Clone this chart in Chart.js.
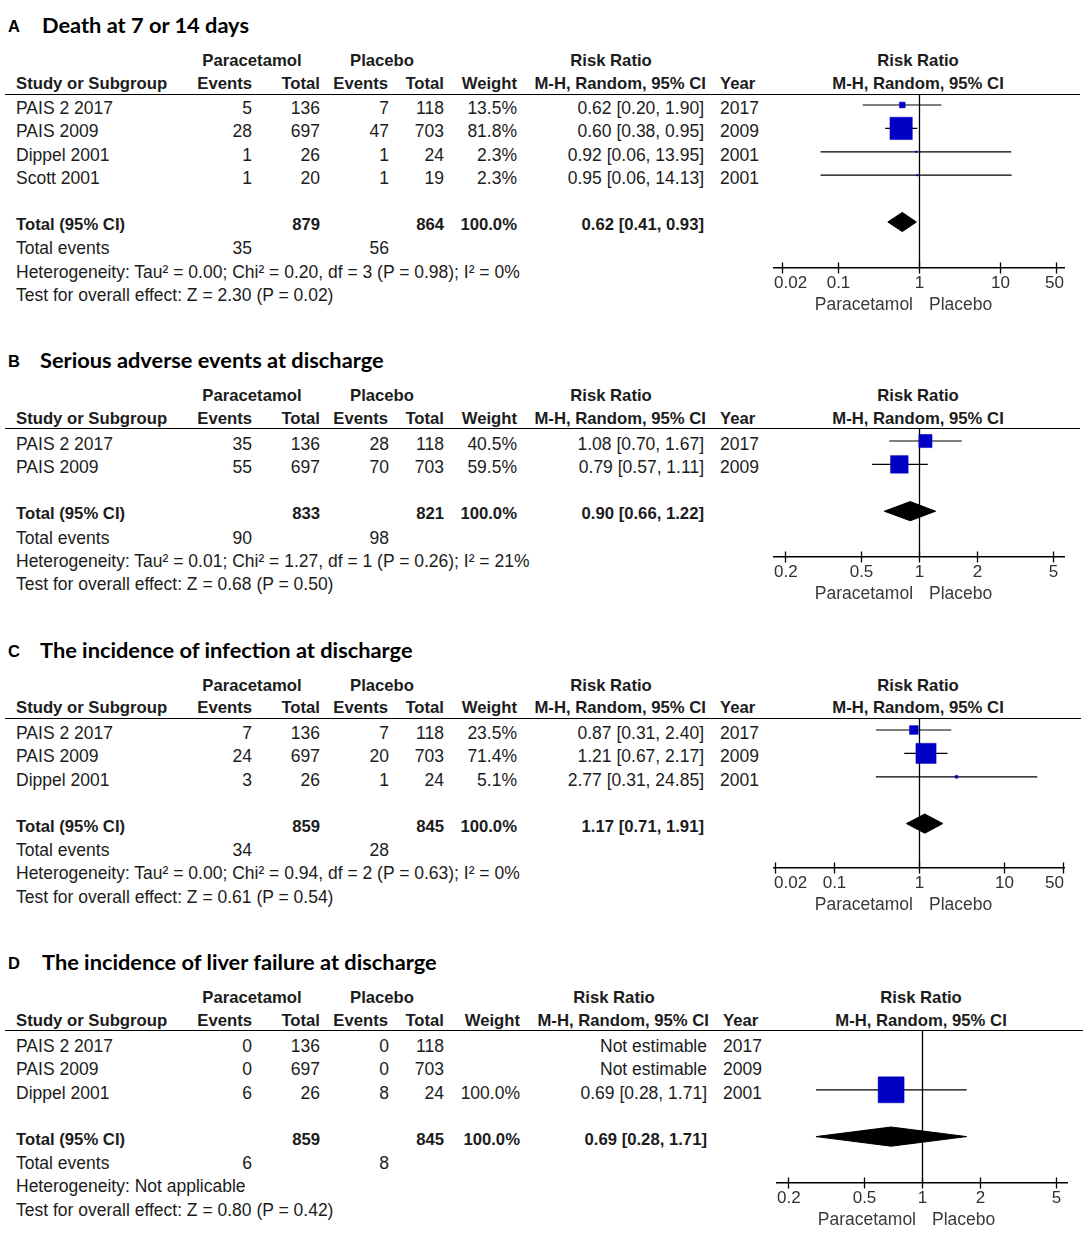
<!DOCTYPE html>
<html><head><meta charset="utf-8">
<script src="https://cdn.jsdelivr.net/npm/chart.js@4.4.1/dist/chart.umd.min.js"></script>
<style>
body{margin:0;background:#fff;width:1084px;height:1240px;position:relative;overflow:hidden;font-family:"Liberation Sans",Arial,sans-serif;color:#1c1c1c}
.t{position:absolute;white-space:nowrap;font-size:17.5px;height:24px;line-height:24px}
.b{font-weight:bold;font-size:16.7px}
.ttl{position:absolute;white-space:nowrap;font-family:Lato,"Open Sans",sans-serif;font-weight:700;font-size:21.8px;height:30px;line-height:30px;color:#000}
.lt{position:absolute;font-weight:bold;font-size:16.5px;height:20px;line-height:20px;color:#000}
.hl{position:absolute;height:0;border-top:1.7px solid #000}
.cw{position:absolute}
</style></head><body>
<script>
// ---------------- DATA ----------------
// Panel A: Death at 7 or 14 days
const studiesA = ['PAIS 2 2017','PAIS 2009','Dippel 2001','Scott 2001'];
const paraEventsA = [5, 28, 1, 1];
const paraTotalA = [136, 697, 26, 20];
const placEventsA = [7, 47, 1, 1];
const placTotalA = [118, 703, 24, 19];
const weightA = [13.5, 81.8, 2.3, 2.3];
const rrA = [0.62, 0.60, 0.92, 0.95];
const lowA = [0.20, 0.38, 0.06, 0.06];
const highA = [1.90, 0.95, 13.95, 14.13];
const yearA = [2017, 2009, 2001, 2001];
const totalsA = [879, 864];
const totalEventsA = [35, 56];
const pooledA = [0.62, 0.41, 0.93];
const hetA = 'Heterogeneity: Tau\u00b2 = 0.00; Chi\u00b2 = 0.20, df = 3 (P = 0.98); I\u00b2 = 0%';
const testA = 'Test for overall effect: Z = 2.30 (P = 0.02)';
const ticksA = [0.02, 0.1, 1, 10, 50];

// Panel B: Serious adverse events at discharge
const studiesB = ['PAIS 2 2017','PAIS 2009'];
const paraEventsB = [35, 55];
const paraTotalB = [136, 697];
const placEventsB = [28, 70];
const placTotalB = [118, 703];
const weightB = [40.5, 59.5];
const rrB = [1.08, 0.79];
const lowB = [0.70, 0.57];
const highB = [1.67, 1.11];
const yearB = [2017, 2009];
const totalsB = [833, 821];
const totalEventsB = [90, 98];
const pooledB = [0.90, 0.66, 1.22];
const hetB = 'Heterogeneity: Tau\u00b2 = 0.01; Chi\u00b2 = 1.27, df = 1 (P = 0.26); I\u00b2 = 21%';
const testB = 'Test for overall effect: Z = 0.68 (P = 0.50)';
const ticksB = [0.2, 0.5, 1, 2, 5];

// Panel C: The incidence of infection at discharge
const studiesC = ['PAIS 2 2017','PAIS 2009','Dippel 2001'];
const paraEventsC = [7, 24, 3];
const paraTotalC = [136, 697, 26];
const placEventsC = [7, 20, 1];
const placTotalC = [118, 703, 24];
const weightC = [23.5, 71.4, 5.1];
const rrC = [0.87, 1.21, 2.77];
const lowC = [0.31, 0.67, 0.31];
const highC = [2.40, 2.17, 24.85];
const yearC = [2017, 2009, 2001];
const totalsC = [859, 845];
const totalEventsC = [34, 28];
const pooledC = [1.17, 0.71, 1.91];
const hetC = 'Heterogeneity: Tau\u00b2 = 0.00; Chi\u00b2 = 0.94, df = 2 (P = 0.63); I\u00b2 = 0%';
const testC = 'Test for overall effect: Z = 0.61 (P = 0.54)';
const ticksC = [0.02, 0.1, 1, 10, 50];

// Panel D: The incidence of liver failure at discharge
const studiesD = ['PAIS 2 2017','PAIS 2009','Dippel 2001'];
const paraEventsD = [0, 0, 6];
const paraTotalD = [136, 697, 26];
const placEventsD = [0, 0, 8];
const placTotalD = [118, 703, 24];
const weightD = [null, null, 100.0];
const rrD = [null, null, 0.69];
const lowD = [null, null, 0.28];
const highD = [null, null, 1.71];
const yearD = [2017, 2009, 2001];
const totalsD = [859, 845];
const totalEventsD = [6, 8];
const pooledD = [0.69, 0.28, 1.71];
const hetD = 'Heterogeneity: Not applicable';
const testD = 'Test for overall effect: Z = 0.80 (P = 0.42)';
const ticksD = [0.2, 0.5, 1, 2, 5];

// ---------------- LAYOUT ----------------
const ROW_H = 23.4;
const MARK_SHIFT = 3;
const panels = [
  {letter:'A', title:'Death at 7 or 14 days', titleX:42, titleY:25, h1Y:61, h2Y:84, lineY:95, row0:108, axisY:268, lineR:1080, dx:0, axisMin:Math.pow(10,-1.8), axisMax:Math.pow(10,1.8), padL:14, padR:20,
   studies:studiesA, pe:paraEventsA, pt:paraTotalA, ce:placEventsA, ct:placTotalA, w:weightA, rr:rrA, lo:lowA, hi:highA, yr:yearA, tot:totalsA, tev:totalEventsA, pooled:pooledA, het:hetA, test:testA, ticks:ticksA},
  {letter:'B', title:'Serious adverse events at discharge', titleX:40, titleY:360, h1Y:396, h2Y:419, lineY:429, row0:444, axisY:557, lineR:1080, dx:0, axisMin:0.176, axisMax:5.68, padL:14, padR:20,
   studies:studiesB, pe:paraEventsB, pt:paraTotalB, ce:placEventsB, ct:placTotalB, w:weightB, rr:rrB, lo:lowB, hi:highB, yr:yearB, tot:totalsB, tev:totalEventsB, pooled:pooledB, het:hetB, test:testB, ticks:ticksB},
  {letter:'C', title:'The incidence of infection at discharge', titleX:40, titleY:650, h1Y:686, h2Y:708, lineY:719, row0:733, axisY:868, lineR:1081, dx:0, axisMin:0.0195, axisMax:51.3, padL:14, padR:20,
   studies:studiesC, pe:paraEventsC, pt:paraTotalC, ce:placEventsC, ct:placTotalC, w:weightC, rr:rrC, lo:lowC, hi:highC, yr:yearC, tot:totalsC, tev:totalEventsC, pooled:pooledC, het:hetC, test:testC, ticks:ticksC},
  {letter:'D', title:'The incidence of liver failure at discharge', titleX:42, titleY:962, h1Y:998, h2Y:1021, lineY:1031, row0:1046, axisY:1183, lineR:1083, dx:3, axisMin:0.1754, axisMax:5.70, padL:17, padR:17,
   studies:studiesD, pe:paraEventsD, pt:paraTotalD, ce:placEventsD, ct:placTotalD, w:weightD, rr:rrD, lo:lowD, hi:highD, yr:yearD, tot:totalsD, tev:totalEventsD, pooled:pooledD, het:hetD, test:testD, ticks:ticksD}
];

function put(str, x, y, align, cls){
  const d = document.createElement('div');
  d.className = 't' + (cls ? ' ' + cls : '');
  d.textContent = str;
  if (align === 'left') { d.style.left = x + 'px'; }
  else if (align === 'right') { d.style.left = (x - 400) + 'px'; d.style.width = '400px'; d.style.textAlign = 'right'; }
  else { d.style.left = (x - 200) + 'px'; d.style.width = '400px'; d.style.textAlign = 'center'; }
  d.style.top = (y - 12) + 'px';
  document.body.appendChild(d);
}
const fmtRR = (r, l, h) => r.toFixed(2) + ' [' + l.toFixed(2) + ', ' + h.toFixed(2) + ']';
const squareSide = w => 26 * Math.pow(w / 100, 0.75);

const forestDecor = {
  id: 'forestDecor',
  beforeDatasetsDraw(chart){
    const {ctx, chartArea, scales:{x}} = chart;
    const px = Math.round(x.getPixelForValue(1)) + 0.5;
    ctx.save();
    ctx.strokeStyle = '#000'; ctx.lineWidth = 1.3;
    ctx.beginPath(); ctx.moveTo(px, chartArea.top); ctx.lineTo(px, chartArea.bottom); ctx.stroke();
    ctx.restore();
  },
  afterDraw(chart){
    const {ctx, chartArea, scales:{x}} = chart;
    const yb = chartArea.bottom;
    ctx.save();
    ctx.strokeStyle = '#000'; ctx.lineWidth = 1.3;
    ctx.font = '17px "Liberation Sans", Arial, sans-serif';
    ctx.fillStyle = '#303030';
    ctx.textBaseline = 'middle';
    x.ticks.forEach(t => {
      const px = Math.round(x.getPixelForValue(t.value)) + 0.5;
      ctx.beginPath(); ctx.moveTo(px, yb - 5.5); ctx.lineTo(px, yb + 5.5); ctx.stroke();
      const lab = String(t.value);
      const w = ctx.measureText(lab).width;
      let cx = Math.max(px, chartArea.left + w / 2);
      cx = Math.min(cx, chartArea.right - w / 2);
      ctx.textAlign = 'center';
      ctx.fillText(lab, cx, yb + 15);
    });
    const p1 = x.getPixelForValue(1);
    ctx.font = '17.5px "Liberation Sans", Arial, sans-serif';
    ctx.fillStyle = '#3a3a3a';
    ctx.textAlign = 'right'; ctx.fillText('Paracetamol', p1 - 6, yb + 37);
    ctx.textAlign = 'left'; ctx.fillText('Placebo', p1 + 10, yb + 37);
    ctx.restore();
  }
};

panels.forEach(p => {
  const dx = p.dx;
  const L = document.createElement('div'); L.className = 'lt'; L.textContent = p.letter;
  L.style.left = '8px'; L.style.top = (p.titleY - 9) + 'px'; document.body.appendChild(L);
  const T = document.createElement('div'); T.className = 'ttl'; T.textContent = p.title;
  T.style.left = p.titleX + 'px'; T.style.top = (p.titleY - 15) + 'px'; document.body.appendChild(T);
  put('Paracetamol', 252, p.h1Y, 'center', 'b');
  put('Placebo', 382, p.h1Y, 'center', 'b');
  put('Risk Ratio', 611 + dx, p.h1Y, 'center', 'b');
  put('Risk Ratio', 918 + dx, p.h1Y, 'center', 'b');
  put('Study or Subgroup', 16, p.h2Y, 'left', 'b');
  put('Events', 252, p.h2Y, 'right', 'b');
  put('Total', 320, p.h2Y, 'right', 'b');
  put('Events', 388, p.h2Y, 'right', 'b');
  put('Total', 444, p.h2Y, 'right', 'b');
  put('Weight', 517 + dx, p.h2Y, 'right', 'b');
  put('M-H, Random, 95% CI', 706 + dx, p.h2Y, 'right', 'b');
  put('Year', 720 + dx, p.h2Y, 'left', 'b');
  put('M-H, Random, 95% CI', 918 + dx, p.h2Y, 'center', 'b');
  const hl = document.createElement('div'); hl.className = 'hl';
  hl.style.left = '5px'; hl.style.width = (p.lineR - 5) + 'px'; hl.style.top = (p.lineY - 0.8) + 'px';
  document.body.appendChild(hl);
  const n = p.studies.length;
  p.studies.forEach((s, i) => {
    const y = p.row0 + i * ROW_H;
    put(s, 16, y, 'left');
    put(String(p.pe[i]), 252, y, 'right');
    put(String(p.pt[i]), 320, y, 'right');
    put(String(p.ce[i]), 389, y, 'right');
    put(String(p.ct[i]), 444, y, 'right');
    if (p.w[i] != null) put(p.w[i].toFixed(1) + '%', 517 + dx, y, 'right');
    put(p.rr[i] != null ? fmtRR(p.rr[i], p.lo[i], p.hi[i]) : 'Not estimable', 704 + dx, y, 'right');
    put(String(p.yr[i]), 720 + dx, y, 'left');
  });
  const yt = p.row0 + (n + 1) * ROW_H;
  put('Total (95% CI)', 16, yt, 'left', 'b');
  put(String(p.tot[0]), 320, yt, 'right', 'b');
  put(String(p.tot[1]), 444, yt, 'right', 'b');
  put('100.0%', 517 + dx, yt, 'right', 'b');
  put(fmtRR(p.pooled[0], p.pooled[1], p.pooled[2]), 704 + dx, yt, 'right', 'b');
  const ye = p.row0 + (n + 2) * ROW_H;
  put('Total events', 16, ye, 'left');
  put(String(p.tev[0]), 252, ye, 'right');
  put(String(p.tev[1]), 389, ye, 'right');
  put(p.het, 16, p.row0 + (n + 3) * ROW_H, 'left');
  put(p.test, 16, p.row0 + (n + 4) * ROW_H, 'left');

  const H = p.axisY - p.lineY + 50;
  const wrap = document.createElement('div'); wrap.className = 'cw';
  wrap.style.left = '760px'; wrap.style.top = p.lineY + 'px'; wrap.style.width = '324px'; wrap.style.height = H + 'px';
  const cv = document.createElement('canvas'); wrap.appendChild(cv); document.body.appendChild(wrap);
  const markRow0 = p.row0 - MARK_SHIFT;
  const yMin = (p.lineY - markRow0) / ROW_H;
  const yMax = (p.axisY - markRow0) / ROW_H;

  const squares = [], whiskers = [];
  p.studies.forEach((s, i) => {
    if (p.rr[i] == null) return;
    squares.push({x: p.rr[i], y: i, w: p.w[i]});
    whiskers.push({x: p.lo[i], y: i}, {x: p.hi[i], y: i}, {x: 1, y: null});
  });
  const tr = n + 1;
  const diamond = [
    {x: p.pooled[1], y: tr}, {x: p.pooled[0], y: tr - 0.41},
    {x: p.pooled[2], y: tr}, {x: p.pooled[0], y: tr + 0.41}, {x: p.pooled[1], y: tr}
  ];

  new Chart(cv, {
    type: 'scatter',
    data: { datasets: [
      { data: squares, pointStyle: 'rect', backgroundColor: '#0000c4', borderColor: '#0000c4', borderWidth: 0.5,
        pointRadius: c => squareSide(c.raw.w) / Math.SQRT2, pointHoverRadius: c => squareSide(c.raw.w) / Math.SQRT2, order: 0, clip: false },
      { data: whiskers, showLine: true, spanGaps: false, borderColor: '#000', borderWidth: 1.2, pointRadius: 0, order: 1, clip: false },
      { data: diamond, showLine: true, fill: 'shape', backgroundColor: '#000', borderColor: '#000', borderWidth: 1, pointRadius: 0, tension: 0, order: 2, clip: false }
    ]},
    options: {
      responsive: true, maintainAspectRatio: false, animation: false, events: [],
      layout: { autoPadding: false, padding: { left: p.padL, right: p.padR, top: 0, bottom: 0 } },
      plugins: { legend: { display: false }, tooltip: { enabled: false } },
      scales: {
        x: { type: 'logarithmic', bounds: 'data', min: p.axisMin, max: p.axisMax, position: 'bottom',
             grid: { display: false }, border: { display: true, color: '#000', width: 1.5 },
             ticks: { display: false },
             afterBuildTicks: s => { s.ticks = p.ticks.map(v => ({ value: v })); },
             afterFit: s => { s.height = 50; } },
        y: { type: 'linear', bounds: 'data', reverse: true, min: yMin, max: yMax, display: false,
             afterBuildTicks: s => { s.min = yMin; s.max = yMax; } }
      }
    },
    plugins: [forestDecor]
  });
});
</script>
</body></html>
